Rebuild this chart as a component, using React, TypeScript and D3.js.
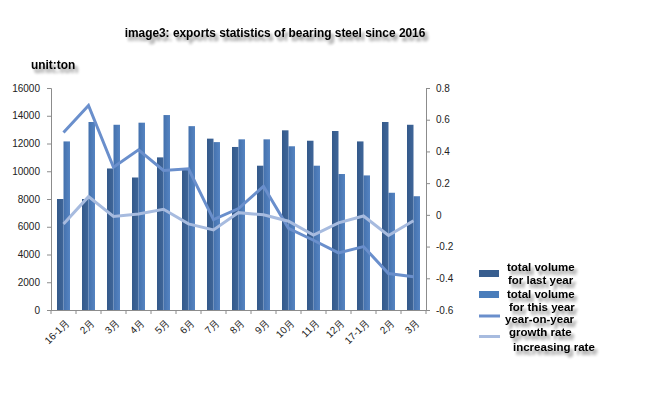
import React, { useEffect, useRef } from "react";
import * as d3 from "d3";

const months = [
  "16-1月", "2月", "3月", "4月", "5月", "6月", "7月", "8月",
  "9月", "10月", "11月", "12月", "17-1月", "2月", "3月",
];
const lastYear = [
  8000, 8000, 10200, 9550, 11000, 10100, 12350, 11750,
  10400, 12950, 12200, 12900, 12150, 13550, 13350,
];
const thisYear = [
  12150, 13550, 13350, 13500, 14050, 13250, 12100, 12300,
  12300, 11800, 10400, 9800, 9700, 8450, 8200,
];
const yoyGrowth = [
  0.52, 0.69, 0.3, 0.41, 0.28, 0.29, -0.03, 0.04,
  0.18, -0.085, -0.16, -0.24, -0.2, -0.37, -0.39,
];
const increasingRate = [
  -0.057, 0.115, -0.01, 0.006, 0.035, -0.057, -0.095, 0.014,
  0, -0.04, -0.127, -0.05, -0.007, -0.13, -0.037,
];
const leftTicks = [0, 2000, 4000, 6000, 8000, 10000, 12000, 14000, 16000];
const rightTicks = [-0.6, -0.4, -0.2, 0, 0.2, 0.4, 0.6, 0.8];

const App = () => {
  const svgRef = useRef<SVGSVGElement>(null);

  useEffect(() => {
    const width = 657;
    const height = 396;
    const left = 51;
    const right = 426;
    const top = 88;
    const bottom = 310;

    const svg = d3.select(svgRef.current);
    svg.selectAll("*").remove();
    svg.attr("width", width).attr("height", height);

    // soft drop shadow for the bold texts
    const defs = svg.append("defs");
    const f = defs
      .append("filter")
      .attr("id", "shadow")
      .attr("x", "-10%")
      .attr("y", "-40%")
      .attr("width", "130%")
      .attr("height", "200%");
    f.append("feGaussianBlur")
      .attr("in", "SourceAlpha")
      .attr("stdDeviation", 1.6)
      .attr("result", "b");
    f.append("feOffset").attr("dx", 3).attr("dy", 4).attr("result", "o");
    f.append("feComponentTransfer")
      .attr("in", "o")
      .attr("result", "s")
      .append("feFuncA")
      .attr("type", "linear")
      .attr("slope", 0.45);
    const merge = f.append("feMerge");
    merge.append("feMergeNode").attr("in", "s");
    merge.append("feMergeNode").attr("in", "SourceGraphic");

    const idx = months.map((_, i) => i);

    const x = d3
      .scaleBand<number>()
      .domain(idx)
      .range([left, right])
      .paddingInner(0.48)
      .paddingOuter(0.24);
    const xSub = d3
      .scaleBand<number>()
      .domain([0, 1])
      .range([0, x.bandwidth()]);
    const xCenter = (i: number) => left + (i + 0.5) * ((right - left) / months.length);

    const yL = d3.scaleLinear().domain([0, 16000]).range([bottom, top]);
    const yR = d3.scaleLinear().domain([-0.6, 0.8]).range([bottom, top]);

    const axisColor = "#8c8c8c";
    const font = "'Liberation Sans', Arial, sans-serif";

    // left axis
    const gL = svg
      .append("g")
      .attr("transform", `translate(${left},0)`)
      .call(d3.axisLeft(yL).tickValues(leftTicks).tickSize(4).tickPadding(7).tickFormat(d3.format("d")));
    gL.selectAll("path,line").attr("stroke", axisColor);
    gL.selectAll("text")
      .attr("font-family", font)
      .attr("font-size", 10)
      .attr("fill", "#222");

    // right axis
    const gR = svg
      .append("g")
      .attr("transform", `translate(${right},0)`)
      .call(
        d3
          .axisRight(yR)
          .tickValues(rightTicks)
          .tickSize(4)
          .tickPadding(6)
          .tickFormat((d) => {
            const v = Math.round(+d * 10) / 10;
            return v === 0 ? "0" : String(v);
          })
      );
    gR.selectAll("path,line").attr("stroke", axisColor);
    gR.selectAll("text")
      .attr("font-family", font)
      .attr("font-size", 10)
      .attr("fill", "#222");

    // bottom axis with ticks between categories
    const step = (right - left) / months.length;
    svg.append("line")
      .attr("x1", left)
      .attr("x2", right)
      .attr("y1", bottom + 0.5)
      .attr("y2", bottom + 0.5)
      .attr("stroke", axisColor);
    svg.append("g")
      .selectAll("line")
      .data(d3.range(months.length + 1))
      .join("line")
      .attr("x1", (i) => left + i * step)
      .attr("x2", (i) => left + i * step)
      .attr("y1", bottom)
      .attr("y2", bottom + 4)
      .attr("stroke", axisColor);
    svg.append("g")
      .selectAll("text")
      .data(months)
      .join("text")
      .attr("transform", (_, i) => `translate(${xCenter(i) + 4},${bottom + 11}) rotate(-45)`)
      .attr("text-anchor", "end")
      .attr("dy", "0.35em")
      .attr("font-family", font)
      .attr("font-size", 10)
      .attr("fill", "#222")
      .text((d) => d);

    // gradients for bars
    const grad = (id: string, c1: string, c2: string) => {
      const g = defs.append("linearGradient").attr("id", id).attr("x1", 0).attr("x2", 1).attr("y1", 0).attr("y2", 0);
      g.append("stop").attr("offset", "0%").attr("stop-color", c1);
      g.append("stop").attr("offset", "100%").attr("stop-color", c2);
    };
    grad("gDark", "#34598a", "#3f6699");
    grad("gLight", "#4471ad", "#5584c2");

    const series = [
      { values: lastYear, fill: "url(#gDark)" },
      { values: thisYear, fill: "url(#gLight)" },
    ];
    series.forEach((s, si) => {
      svg.append("g")
        .selectAll("rect")
        .data(s.values)
        .join("rect")
        .attr("x", (_, i) => (x(i) as number) + (xSub(si) as number))
        .attr("width", xSub.bandwidth())
        .attr("y", (d) => yL(d))
        .attr("height", (d) => bottom - yL(d))
        .attr("fill", s.fill);
    });

    // lines
    const lineGen = d3
      .line<number>()
      .x((_, i) => xCenter(i))
      .y((d) => yR(d));
    svg.append("path")
      .datum(yoyGrowth)
      .attr("d", lineGen)
      .attr("fill", "none")
      .attr("stroke", "#6a8fcc")
      .attr("stroke-width", 3);
    svg.append("path")
      .datum(increasingRate)
      .attr("d", lineGen)
      .attr("fill", "none")
      .attr("stroke", "#a7bbdf")
      .attr("stroke-width", 3);

    // title and unit
    svg.append("text")
      .attr("x", 275)
      .attr("y", 37)
      .attr("text-anchor", "middle")
      .attr("font-family", font)
      .attr("font-weight", "bold")
      .attr("font-size", 11.9)
      .attr("fill", "#000")
      .attr("filter", "url(#shadow)")
      .text("image3: exports statistics of bearing steel since 2016");
    svg.append("text")
      .attr("x", 31)
      .attr("y", 69)
      .attr("font-family", font)
      .attr("font-weight", "bold")
      .attr("font-size", 11.9)
      .attr("fill", "#000")
      .attr("filter", "url(#shadow)")
      .text("unit:ton");

    // legend
    const lg = svg.append("g");
    lg.append("rect").attr("x", 479).attr("y", 270).attr("width", 20).attr("height", 7).attr("fill", "#385e8f");
    lg.append("rect").attr("x", 479).attr("y", 291).attr("width", 20).attr("height", 7).attr("fill", "#4a7dbb");
    lg.append("line").attr("x1", 479).attr("x2", 500).attr("y1", 316).attr("y2", 316).attr("stroke", "#6a8fcc").attr("stroke-width", 3);
    lg.append("line").attr("x1", 479).attr("x2", 500).attr("y1", 336.5).attr("y2", 336.5).attr("stroke", "#a7bbdf").attr("stroke-width", 3);

    const legendLines = [
      { t: "total volume", x: 507, y: 271 },
      { t: "for last year", x: 508, y: 284 },
      { t: "total volume", x: 507, y: 298 },
      { t: "for this year", x: 509, y: 311 },
      { t: "year-on-year", x: 505, y: 323 },
      { t: "growth rate", x: 509, y: 336 },
      { t: "increasing rate", x: 513, y: 351 },
    ];
    lg.selectAll("text.leg")
      .data(legendLines)
      .join("text")
      .attr("class", "leg")
      .attr("x", (d) => d.x)
      .attr("y", (d) => d.y)
      .attr("font-family", font)
      .attr("font-weight", "bold")
      .attr("font-size", 11.5)
      .attr("fill", "#000")
      .attr("filter", "url(#shadow)")
      .text((d) => d.t);
  }, []);

  return (
    <svg
      ref={svgRef}
      style={{ position: "absolute", left: 0, top: 0, background: "#fff" }}
    ></svg>
  );
};

export default App;
